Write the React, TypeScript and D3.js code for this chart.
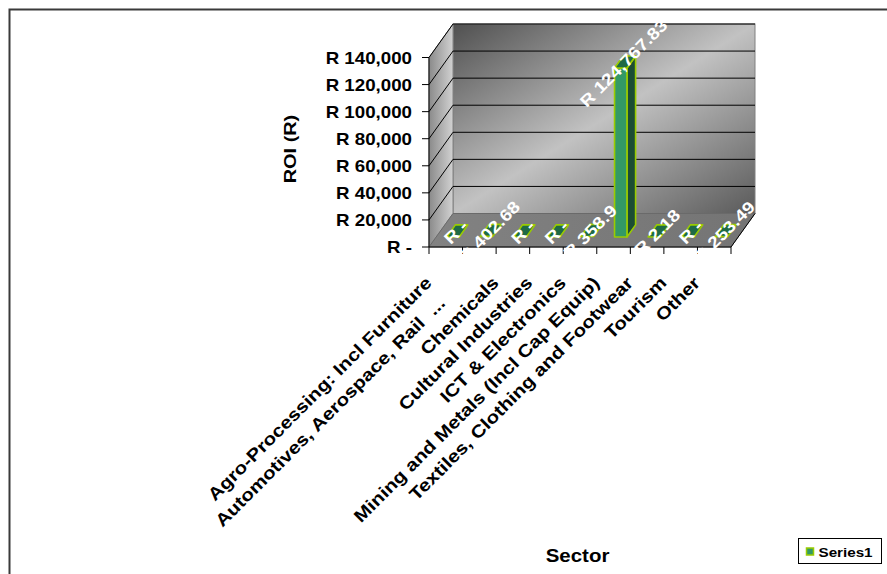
import React from 'react';
import * as d3 from 'd3';

const categories = [
  'Agro-Processing: Incl Furniture',
  'Automotives, Aerospace, Rail  ...',
  'Chemicals',
  'Cultural Industries',
  'ICT & Electronics',
  'Mining and Metals (Incl Cap Equip)',
  'Textiles, Clothing and Footwear',
  'Tourism',
  'Other',
];
// trailing blank padding Excel keeps after the truncated label
const labelPadding = ['', '\u00a0\u00a0\u00a0\u00a0\u00a0', '', '', '', '', '', '', ''];
const values = [0, 402.68, 0, 0, 358.9, 124767.83, 2.18, 0, 253.49];
const valueLabels = ['R -', 'R 402.68', 'R -', 'R -', 'R 358.9', 'R 124,767.83', 'R 2.18', 'R -', 'R 253.49'];
const yTicks = [0, 20000, 40000, 60000, 80000, 100000, 120000, 140000];
const yTickLabels = ['R -', 'R 20,000', 'R 40,000', 'R 60,000', 'R 80,000', 'R 100,000', 'R 120,000', 'R 140,000'];
const seriesName = 'Series1';
const yTitle = 'ROI (R)';
const xTitle = 'Sector';

const W = 887;
const H = 574;
const X0 = 429;
const X1 = 731;
const Y0 = 247;
const YTOP = 57.5;
const DX = 24;
const DY = -33.5;
const BAR_FRONT = 0.3;
const BAR_DEPTH = 0.36;
const SX = 1.17;
const FONT = "'Liberation Sans', Arial, Helvetica, sans-serif";

const BAR_FRONT_FILL = '#339966';
const BAR_SIDE_FILL = '#1b4d34';
const BAR_TOP_FILL = '#1f6a45';
const BAR_STROKE = '#99cc00';

function T(props: {
  x: number; y: number; rot?: number; anchor?: string; size: number; fill?: string;
  baseline?: string; children: React.ReactNode;
}) {
  const { x, y, rot = 0, anchor = 'start', size, fill = '#000', baseline, children } = props;
  return (
    <text
      transform={`translate(${x},${y}) rotate(${rot}) scale(${SX},1)`}
      textAnchor={anchor}
      fontSize={size}
      fontWeight="bold"
      fontFamily={FONT}
      fill={fill}
      dominantBaseline={baseline}
      style={{ whiteSpace: 'pre' }}
    >
      {children}
    </text>
  );
}

const pts = (p: [number, number][]) => p.map((q) => q.join(',')).join(' ');

export default function App() {
  const x = d3
    .scaleBand<string>()
    .domain(categories)
    .range([X0, X1])
    .paddingInner(0.63)
    .paddingOuter(0.315);
  const slot = d3.scaleBand<string>().domain(categories).range([X0, X1]);
  const labelAnchor = d3.scaleBand<string>().domain(categories).range([X0 - 13, X1 - 13]);
  const y = d3.scaleLinear().domain([0, 140000]).range([Y0, YTOP]);
  const step = slot.step();
  const bw = x.bandwidth();

  const backL = X0 + DX;
  const backR = X1 + DX;
  const backTop = y(140000) + DY;
  const backBottom = Y0 + DY;

  const boundaries = d3.range(categories.length + 1).map((i) => X0 + i * step);

  return (
    <svg
      width={W}
      height={H}
      style={{ position: 'absolute', left: 0, top: 0, background: '#fff' }}
    >
      <defs>
        <linearGradient id="backGrad" x1="0" y1="0" x2="1" y2="1">
          <stop offset="0" stopColor="#505050" />
          <stop offset="0.5" stopColor="#c2c2c2" />
          <stop offset="1" stopColor="#5a5a5a" />
        </linearGradient>
        <linearGradient id="sideGrad" x1="0" y1="0" x2="1" y2="0">
          <stop offset="0" stopColor="#8a8a8a" />
          <stop offset="1" stopColor="#d2d2d2" />
        </linearGradient>
        <linearGradient id="floorGrad" x1="0" y1="0" x2="1" y2="0">
          <stop offset="0" stopColor="#828282" />
          <stop offset="1" stopColor="#747474" />
        </linearGradient>
      </defs>

      <rect x={9.5} y={9.5} width={W} height={H} fill="#fff" stroke="#3a3a3a" strokeWidth={2} />

      {/* back wall */}
      <rect
        x={backL}
        y={backTop}
        width={backR - backL}
        height={backBottom - backTop}
        fill="url(#backGrad)"
        stroke="#808080"
        strokeWidth={1}
      />
      {/* side wall */}
      <polygon
        points={pts([
          [X0, y(140000)],
          [backL, backTop],
          [backL, backBottom],
          [X0, Y0],
        ])}
        fill="url(#sideGrad)"
        stroke="#808080"
        strokeWidth={1}
      />
      {/* floor */}
      <polygon
        points={pts([
          [X0, Y0],
          [X1, Y0],
          [backR, backBottom],
          [backL, backBottom],
        ])}
        fill="url(#floorGrad)"
        stroke="#6a6a6a"
        strokeWidth={1}
      />

      {/* gridlines */}
      {yTicks
        .filter((v) => v > 0)
        .map((v) => (
          <g key={`g${v}`}>
            <line x1={backL} x2={backR} y1={y(v) + DY} y2={y(v) + DY} stroke="#000" strokeWidth={1} />
            <line x1={X0} x2={backL} y1={y(v)} y2={y(v) + DY} stroke="#000" strokeWidth={1} />
          </g>
        ))}

      {/* axes */}
      <line x1={X0} x2={X0} y1={y(140000)} y2={Y0} stroke="#000" strokeWidth={1} />
      {yTicks.map((v) => (
        <line key={`t${v}`} x1={X0 - 7} x2={X0} y1={y(v)} y2={y(v)} stroke="#000" strokeWidth={1} />
      ))}
      <line x1={X0} x2={X1} y1={Y0} y2={Y0} stroke="#000" strokeWidth={1} />
      <line x1={X1} x2={backR} y1={Y0} y2={backBottom} stroke="#000" strokeWidth={1} />
      {boundaries.map((bx, i) => (
        <line key={`b${i}`} x1={bx} x2={bx} y1={Y0} y2={Y0 + 7} stroke="#000" strokeWidth={1} />
      ))}

      {/* bars */}
      {categories.map((c, i) => {
        const v = values[i];
        const fx0 = (x(c) as number) + BAR_FRONT * DX;
        const fx1 = fx0 + bw;
        const yb = Y0 + BAR_FRONT * DY;
        const yt = y(v) + BAR_FRONT * DY;
        const ddx = BAR_DEPTH * DX;
        const ddy = BAR_DEPTH * DY;
        const tall = yb - yt > 1;
        return (
          <g key={`bar${i}`} stroke={BAR_STROKE} strokeWidth={1.6} strokeLinejoin="round">
            {tall && (
              <>
                <polygon
                  points={pts([
                    [fx1, yt],
                    [fx1 + ddx, yt + ddy],
                    [fx1 + ddx, yb + ddy],
                    [fx1, yb],
                  ])}
                  fill={BAR_SIDE_FILL}
                />
                <rect x={fx0} y={yt} width={bw} height={yb - yt} fill={BAR_FRONT_FILL} />
              </>
            )}
            <polygon
              points={pts([
                [fx0, yt],
                [fx1, yt],
                [fx1 + ddx, yt + ddy],
                [fx0 + ddx, yt + ddy],
              ])}
              fill={BAR_TOP_FILL}
            />
          </g>
        );
      })}

      {/* data labels */}
      {categories.map((c, i) => {
        const cx = (slot(c) as number) + step / 2 + 0.47 * DX - 1;
        const cy = y(values[i]) + 0.47 * DY + 1;
        return (
          <T key={`dl${i}`} x={cx} y={cy} rot={-45} anchor="middle" size={16.5} fill="#fff" baseline="central">
            {valueLabels[i]}
          </T>
        );
      })}

      {/* y tick labels */}
      {yTicks.map((v, i) => (
        <T key={`yl${v}`} x={412} y={y(v) + 6} anchor="end" size={16}>
          {yTickLabels[i]}
        </T>
      ))}

      {/* category labels */}
      {categories.map((c, i) => (
        <T
          key={`cl${i}`}
          x={(labelAnchor(c) as number) + step / 2}
          y={284}
          rot={-45}
          anchor="end"
          size={17.5}
        >
          {c + labelPadding[i]}
        </T>
      ))}

      {/* axis titles */}
      <T x={296} y={149} rot={-90} anchor="middle" size={17}>
        {yTitle}
      </T>
      <T x={577.5} y={561.5} anchor="middle" size={17.5}>
        {xTitle}
      </T>

      {/* legend */}
      <rect x={798.5} y={538.5} width={83} height={25} fill="#fff" stroke="#000" strokeWidth={1} />
      <rect x={806.5} y={548} width={7} height={7} fill={BAR_FRONT_FILL} stroke={BAR_STROKE} strokeWidth={1.5} />
      <T x={818.5} y={556.5} size={13}>
        {seriesName}
      </T>
    </svg>
  );
}
